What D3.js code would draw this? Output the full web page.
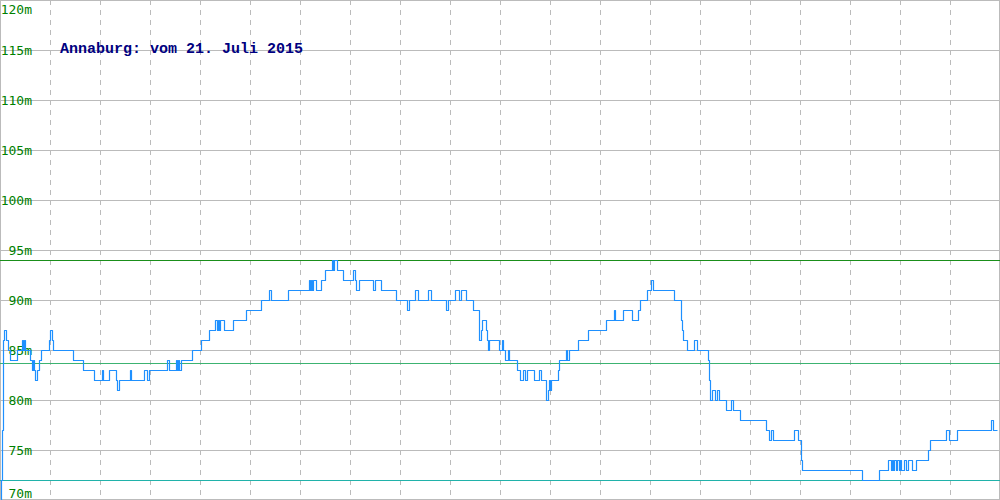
<!DOCTYPE html>
<html><head><meta charset="utf-8">
<script src="https://cdn.jsdelivr.net/npm/d3@7"></script>
<style>html,body{margin:0;padding:0;background:#fff;}svg{display:block;}</style>
</head><body><svg id="c" width="1000" height="500"></svg>
<script>
const title = "Annaburg: vom 21. Juli 2015";
const yTicks = [70, 75, 80, 85, 90, 95, 100, 105, 110, 115, 120];
const xGrid = [50,100,150,200,250,300,350,400,450,500,550,600,650,700,750,800,850,900,950];
// sample index where the reading changes
const samples = [0,1,2,3,4,6,8,10,17,22,23,24,25,30,32,33,34,35,37,39,41,49,50,52,53,73,83,94,102,103,109,116,117,119,130,131,144,147,149,167,169,176,177,178,179,181,192,201,209,215,217,218,219,220,224,233,246,261,269,271,288,309,310,311,312,313,316,321,325,332,333,334,337,343,353,355,356,359,373,375,381,396,407,409,415,418,428,431,446,448,455,459,461,466,473,479,481,482,486,487,488,489,499,502,503,505,508,509,517,520,523,525,527,534,539,541,546,548,549,550,551,558,559,566,567,569,578,588,606,614,615,623,632,638,640,647,651,653,674,681,682,683,687,694,697,708,709,710,712,715,717,719,726,731,733,740,766,769,771,773,794,798,801,802,862,879,888,891,892,893,894,896,897,899,900,901,904,906,908,912,916,928,930,946,949,957,991,993,997];
// altitude in metres from that sample on
const altitude = [70,72,77,86,87,86,85,84,85,86,85,86,85,84,83,84,83,82,83,84,85,86,87,86,85,84,83,82,83,82,83,82,81,82,83,82,83,82,83,84,83,84,83,84,83,84,85,86,87,88,87,88,87,88,87,88,89,90,91,90,91,92,91,92,91,92,91,92,93,94,93,94,93,92,93,92,91,92,91,92,91,90,89,90,91,90,91,90,89,90,91,90,91,90,89,86,87,88,87,86,85,86,85,86,85,84,85,84,83,82,83,82,83,82,83,82,80,81,82,81,82,83,84,85,84,85,86,87,88,89,88,89,88,89,90,91,92,91,90,88,87,86,85,86,85,84,82,80,81,80,81,80,79,80,79,78,77,76,77,76,77,76,74,73,72,73,74,73,74,73,74,73,74,73,74,73,74,73,74,73,74,75,76,77,76,77,78,77,77];
const maxVal = 94, meanVal = 83.67, minVal = 72;

const W = 1000, H = 500;
const svg = d3.select("#c");
const x = d3.scaleLinear().domain([0, 1000]).range([0, W]);
const y = d3.scaleLinear().domain([70, 120]).range([H, 0]);

// horizontal grid
svg.append("g").selectAll("line").data(yTicks).join("line")
  .attr("x1", 0).attr("x2", W)
  .attr("y1", d => Math.min(H - 0.5, Math.round(y(d)) + 0.5))
  .attr("y2", d => Math.min(H - 0.5, Math.round(y(d)) + 0.5))
  .attr("stroke", "#bbbbbb").attr("stroke-width", 1);
// vertical dashed grid
svg.append("g").selectAll("line").data(xGrid).join("line")
  .attr("x1", d => x(d) + 0.5).attr("x2", d => x(d) + 0.5)
  .attr("y1", 0).attr("y2", H)
  .attr("stroke", "#bbbbbb").attr("stroke-width", 1).attr("stroke-dasharray", "5,5");
// frame
svg.append("rect").attr("x", 0.5).attr("y", 0.5).attr("width", W - 1).attr("height", H - 1)
  .attr("fill", "none").attr("stroke", "#bbbbbb");

// y labels
svg.append("g").selectAll("text").data(yTicks).join("text")
  .attr("x", 32).attr("text-anchor", "end")
  .attr("y", d => d === 120 ? 13.5 : d === 70 ? 497.5 : y(d) + 4.5)
  .attr("fill", "#008000")
  .attr("font-family", "DejaVu Sans Mono, monospace").attr("font-size", 13)
  .text(d => d + "m");

// reference lines
const refs = [[maxVal, "#1a8f1a"], [meanVal, "#3cb371"], [minVal, "#20b2aa"]];
svg.append("g").selectAll("line").data(refs).join("line")
  .attr("x1", 0).attr("x2", W)
  .attr("y1", d => Math.round(y(d[0])) + 0.5).attr("y2", d => Math.round(y(d[0])) + 0.5)
  .attr("stroke", d => d[1]).attr("stroke-width", 1);

// data line
const pts = samples.map((s, i) => [s, altitude[i]]);
const line = d3.line().x(d => x(d[0]) + 0.5).y(d => y(d[1]) + 0.5).curve(d3.curveStepAfter);
svg.append("path").datum(pts).attr("d", line)
  .attr("fill", "none").attr("stroke", "#1e90ff").attr("stroke-width", 1.2)
  .attr("stroke-linejoin", "round");

// title
svg.append("text").attr("x", 60).attr("y", 53)
  .attr("fill", "#000080").attr("font-family", "Liberation Mono, monospace")
  .attr("font-size", 15).attr("font-weight", "bold")
  .text(title);
</script>
</body></html>
